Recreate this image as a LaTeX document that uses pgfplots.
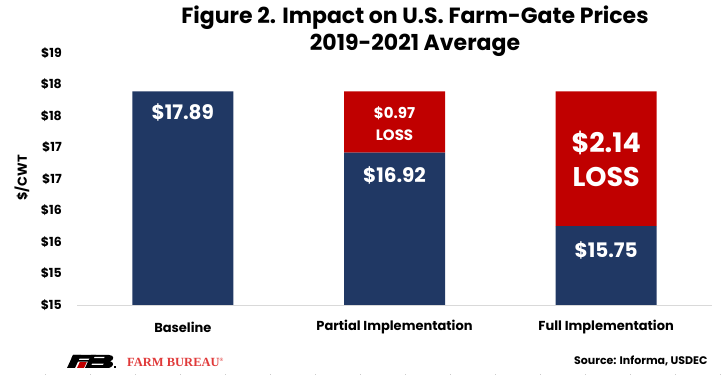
\documentclass[border=0pt]{standalone}
\usepackage{pgfplots}
\pgfplotsset{compat=1.18}
\usepackage{fontspec}
\setmainfont{Poppins}
\newfontfamily\serifred{Liberation Serif}
\definecolor{navy}{HTML}{203864}
\definecolor{darkred}{HTML}{C00000}
\definecolor{fbred}{HTML}{E03A3A}
\newcommand{\fs}[1]{\fontsize{#1bp}{#1bp}\selectfont}
\begin{document}
\begin{tikzpicture}
\path[use as bounding box] (0,0) rectangle (723bp,376bp);
\begin{axis}[
  at={(77bp,71bp)}, anchor=south west,
  scale only axis, width=635bp, height=252bp,
  ybar stacked, bar width=101bp,
  xmin=-0.5, xmax=2.5, ymin=14.5, ymax=18.5,
  xtick={0,1,2},
  xticklabels={Baseline, Partial Implementation, Full Implementation},
  ytick={14.5,15,15.5,16,16.5,17,17.5,18,18.5},
  yticklabels={\$15,\$15,\$16,\$16,\$17,\$17,\$18,\$18,\$19},
  axis x line*=bottom, axis y line*=left,
  y axis line style={draw=none},
  x axis line style={draw=black!15, line width=0.8bp},
  major tick length=0pt,
  tick style={draw=none},
  yticklabel style={font=\fs{12.5}\bfseries, inner sep=0pt, anchor=east, xshift=-15bp},
  xticklabel style={font=\fs{13}\bfseries, inner sep=0pt, anchor=center, yshift=-22bp},
  clip=true,
]
\addplot[fill=navy, draw=none] coordinates {(0,17.89) (1,16.92) (2,15.75)};
\addplot[fill=darkred, draw=none] coordinates {(0,0) (1,0.97) (2,2.14)};
\coordinate (l1) at (axis cs:0,17.55);
\coordinate (l2) at (axis cs:1,17.55);
\coordinate (l3) at (axis cs:1,17.20);
\coordinate (l4) at (axis cs:1,16.56);
\coordinate (l5) at (axis cs:2,17.07);
\coordinate (l6) at (axis cs:2,16.53);
\coordinate (l7) at (axis cs:2,15.37);
\end{axis}
\node[text=white, font=\fs{20}\bfseries] at (l1) {\$17.89};
\node[text=white, font=\fs{15}\bfseries] at (l2) {\$0.97};
\node[text=white, font=\fs{15}\bfseries] at (l3) {LOSS};
\node[text=white, font=\fs{20}\bfseries] at (l4) {\$16.92};
\node[text=white, font=\fs{27}\bfseries] at (l5) {\$2.14};
\node[text=white, font=\fs{27}\bfseries] at (l6) {LOSS};
\node[text=white, font=\fs{20}\bfseries] at (l7) {\$15.75};
\node[font=\fs{22}\bfseries] at (415bp,358bp) {Figure 2. Impact on U.S. Farm-Gate Prices};
\node[font=\fs{22}\bfseries] at (415bp,331bp) {2019-2021 Average};
\node[font=\fs{13}\bfseries, rotate=90] at (22bp,198bp) {\$/CWT};
\node[font=\fs{11}\bfseries, anchor=east] at (711bp,15bp) {Source: Informa, USDEC};
% logo
\fill[black] (67bp,8bp) -- (75bp,8bp) -- (81bp,21bp) -- (73bp,21bp) -- cycle;
\fill[black] (73bp,21bp) -- (96bp,21bp) -- (94.3bp,17.3bp) -- (71.3bp,17.3bp) -- cycle;
\fill[black] (75.5bp,15.8bp) -- (90bp,15.8bp) -- (89bp,14.3bp) -- (74.8bp,14.3bp) -- cycle;
\fill[darkred] (77bp,8bp) -- (84bp,8bp) -- (86.7bp,13.8bp) -- (79.7bp,13.8bp) -- cycle;
\fill[black] (85bp,8bp) -- (107bp,8bp) .. controls (114bp,8bp) and (115bp,14bp) .. (110bp,14.8bp) .. controls (114bp,15.5bp) and (115bp,21bp) .. (109bp,21bp) -- (91bp,21bp) -- cycle;
\fill[white] (94bp,17.8bp) -- (104bp,17.8bp) -- (104.6bp,19bp) -- (94.6bp,19bp) -- cycle;
\fill[white] (91.5bp,11bp) -- (103bp,11bp) -- (103.6bp,12.3bp) -- (92.1bp,12.3bp) -- cycle;
\fill[black] (114bp,8bp) rectangle (115.5bp,9.5bp);
\node[font=\serifred\fs{12.5}\bfseries, text=fbred, anchor=west, inner sep=0pt] at (127bp,14bp) {FARM BUREAU\textsuperscript{\fs{5}\textregistered}};
\draw[black!20, line width=0.6bp, dash pattern=on 1bp off 44bp] (45bp,2bp) -- (723bp,2bp);
\end{tikzpicture}
\end{document}
